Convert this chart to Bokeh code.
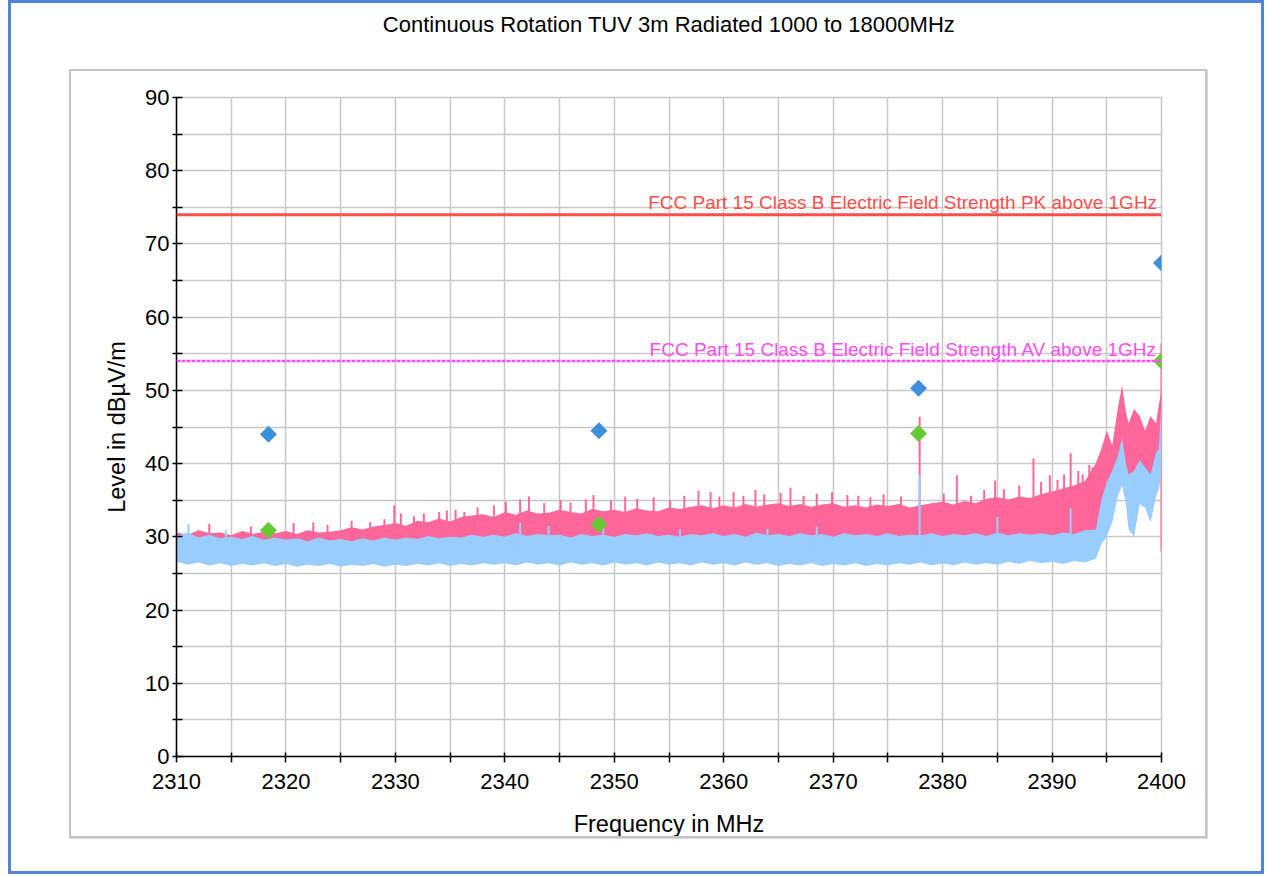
import numpy as np
from bokeh.plotting import figure
from bokeh.models import Range1d, FixedTicker, Label, Span, LinearAxis, InlineStyleSheet
from bokeh.embed import file_html
from bokeh.resources import INLINE

# ---------------- texts ----------------
title_text = "Continuous Rotation TUV 3m Radiated 1000 to 18000MHz"
x_label = "Frequency in MHz"
y_label = "Level in dBµV/m"
pk_limit_label = "FCC Part 15 Class B Electric Field Strength PK above 1GHz"
av_limit_label = "FCC Part 15 Class B Electric Field Strength AV above 1GHz"

# ---------------- ticks ----------------
x_ticks = [2310, 2320, 2330, 2340, 2350, 2360, 2370, 2380, 2390, 2400]
x_minor = [2315, 2325, 2335, 2345, 2355, 2365, 2375, 2385, 2395]
y_ticks = [0, 10, 20, 30, 40, 50, 60, 70, 80, 90]
y_minor = [5, 15, 25, 35, 45, 55, 65, 75, 85]

# ---------------- limits ----------------
pk_limit = 74
av_limit = 54

# ---------------- scan envelopes ----------------
env_freq = [2310, 2311, 2312, 2313, 2314, 2315, 2316, 2317, 2318, 2319,
            2320, 2321, 2322, 2323, 2324, 2325, 2326, 2327, 2328, 2329,
            2330, 2331, 2332, 2333, 2334, 2335, 2336, 2337, 2338, 2339,
            2340, 2341, 2342, 2343, 2344, 2345, 2346, 2347, 2348, 2349,
            2350, 2351, 2352, 2353, 2354, 2355, 2356, 2357, 2358, 2359,
            2360, 2361, 2362, 2363, 2364, 2365, 2366, 2367, 2368, 2369,
            2370, 2371, 2372, 2373, 2374, 2375, 2376, 2377, 2378, 2379,
            2380, 2381, 2382, 2383, 2384, 2385, 2386, 2387, 2388, 2389,
            2390, 2391, 2392, 2393,
            2394, 2394.5, 2395, 2395.5, 2396, 2396.4, 2396.75, 2397, 2397.5,
            2398, 2398.5, 2399, 2399.5, 2399.75, 2400]

pk_hi = [30.6, 30.3, 30.9, 30.5, 30.6, 30.2, 30.8, 30.4, 30.7, 30.5,
         30.8, 30.4, 30.9, 30.6, 30.7, 30.9, 31.3, 31.0, 31.4, 31.6,
         31.9, 31.5, 32.2, 32.0, 32.5, 32.1, 32.7, 32.9, 33.1, 32.7,
         33.4, 33.0, 33.6, 33.2, 33.3, 33.7, 33.4, 33.2, 33.8, 33.5,
         33.7, 33.4, 33.9, 33.6, 33.5, 34.0, 33.8, 34.1, 34.3, 33.9,
         34.3, 34.0, 34.5, 34.1, 34.4, 34.6, 34.2, 34.5, 34.1, 34.4,
         34.6, 34.1, 34.3, 34.0, 34.4, 34.2, 34.5, 34.0, 34.3, 34.6,
         34.8, 34.4, 34.9, 34.6, 35.2, 35.4, 35.1, 35.5, 35.3, 35.8,
         36.2, 36.6, 37.0, 37.6,
         40.0, 42.0, 44.5, 42.5, 47.5, 50.7, 47.0, 45.5, 47.5,
         46.5, 44.5, 46.5, 45.5, 48.0, 50.0]

pk_lo = [26.9, 26.5, 26.8, 26.4, 26.7, 26.3, 26.6, 26.4, 26.7, 26.3,
         26.6, 26.2, 26.5, 26.3, 26.6, 26.2, 26.5, 26.3, 26.6, 26.2,
         26.5, 26.3, 26.6, 26.4, 26.7, 26.3, 26.6, 26.4, 26.7, 26.5,
         26.7, 26.4, 26.8, 26.5, 26.7, 26.4, 26.8, 26.5, 26.7, 26.4,
         26.8, 26.5, 26.7, 26.4, 26.8, 26.5, 26.7, 26.4, 26.8, 26.5,
         26.7, 26.4, 26.8, 26.5, 26.7, 26.3, 26.6, 26.4, 26.7, 26.3,
         26.6, 26.4, 26.7, 26.3, 26.6, 26.4, 26.7, 26.5, 26.8, 26.4,
         26.7, 26.4, 26.8, 26.5, 26.7, 26.5, 26.9, 26.6, 27.0, 26.7,
         26.9, 26.6, 27.0, 26.8,
         27.5, 29.5, 30.5, 32.5, 36.0, 37.5, 35.0, 31.5, 30.5,
         35.0, 34.5, 32.5, 36.0, 37.0, 39.0]

av_hi = [30.1, 30.6, 29.9, 30.3, 29.8, 30.0, 29.7, 30.1, 29.6, 29.9,
         29.6, 29.8, 29.4, 29.9, 29.5, 29.7, 29.4, 29.8, 29.5, 29.9,
         29.6, 29.9, 29.7, 30.1, 29.8, 30.0, 29.9, 30.3, 30.0, 30.3,
         30.0, 30.5, 30.1, 30.4, 30.2, 30.3, 29.9, 30.4, 30.1, 30.3,
         30.0, 30.4, 30.2, 30.5, 30.1, 30.3, 30.0, 30.4, 30.2, 30.5,
         30.1, 30.4, 30.0, 30.6, 30.2, 30.4, 30.1, 30.5, 30.2, 30.4,
         30.0, 30.5, 30.2, 30.4, 30.1, 30.5, 30.1, 30.3, 30.2, 30.5,
         30.1, 30.4, 30.2, 30.5, 30.1, 30.6, 30.2, 30.5, 30.3, 30.5,
         30.2, 30.6, 30.4, 30.9,
         31.0, 35.0, 37.5, 39.0, 41.0, 43.5, 40.0, 38.5, 39.0,
         40.5, 39.5, 38.5, 41.5, 42.0, 48.5]

av_lo = [26.6, 26.2, 26.5, 26.1, 26.4, 26.0, 26.3, 26.1, 26.4, 26.0,
         26.3, 25.9, 26.2, 26.0, 26.3, 25.9, 26.2, 26.0, 26.3, 25.9,
         26.2, 26.0, 26.3, 26.1, 26.4, 26.0, 26.3, 26.1, 26.4, 26.2,
         26.4, 26.1, 26.5, 26.2, 26.4, 26.1, 26.5, 26.2, 26.4, 26.1,
         26.5, 26.2, 26.4, 26.1, 26.5, 26.2, 26.4, 26.1, 26.5, 26.2,
         26.4, 26.1, 26.5, 26.2, 26.4, 26.0, 26.3, 26.1, 26.4, 26.0,
         26.3, 26.1, 26.4, 26.0, 26.3, 26.1, 26.4, 26.2, 26.5, 26.1,
         26.4, 26.1, 26.5, 26.2, 26.4, 26.2, 26.6, 26.3, 26.7, 26.4,
         26.6, 26.3, 26.7, 26.5,
         27.0, 29.0, 30.0, 32.0, 35.5, 37.0, 34.5, 31.0, 30.0,
         34.5, 34.0, 32.0, 35.5, 36.5, 38.5]

# isolated spikes above the noise band
pk_spike_freq = [2313.0, 2316.8, 2318.3, 2320.7, 2322.5, 2323.8, 2326.0, 2327.7,
                 2329.0, 2329.9, 2330.5, 2331.7, 2332.6, 2334.0, 2334.7, 2335.5,
                 2336.3, 2337.5, 2339.0, 2340.1, 2341.4, 2342.2, 2343.6, 2345.1,
                 2346.0, 2347.4, 2348.1, 2349.7, 2351.0, 2352.1, 2353.6, 2355.1,
                 2356.4, 2357.7, 2358.8, 2359.6, 2360.9, 2361.8, 2362.9, 2363.7,
                 2365.2, 2366.1, 2367.3, 2368.5, 2369.9, 2371.3, 2372.3, 2373.4,
                 2374.6, 2376.2, 2377.9, 2380.1, 2381.3, 2382.6, 2383.8, 2384.8,
                 2385.6, 2387.0, 2388.3, 2389.0, 2389.8, 2390.5, 2391.1, 2391.7,
                 2392.4, 2392.8, 2393.4, 2393.7, 2400.0]
pk_spike_level = [31.8, 31.4, 31.3, 31.9, 32.0, 31.6, 32.2, 32.0,
                  32.4, 34.3, 33.2, 32.8, 33.2, 33.4, 33.6, 33.7,
                  33.4, 34.0, 34.3, 34.8, 35.1, 35.5, 34.6, 35.0,
                  34.7, 35.1, 35.7, 35.0, 35.5, 35.2, 35.4, 35.0,
                  35.6, 36.3, 36.1, 35.5, 36.1, 35.6, 36.4, 35.8,
                  36.0, 36.7, 35.6, 35.9, 36.1, 35.7, 35.6, 35.4,
                  35.8, 35.5, 46.4, 35.9, 38.4, 35.6, 36.4, 37.7,
                  36.5, 37.0, 40.7, 37.5, 38.4, 37.8, 38.5, 41.4,
                  39.0, 38.5, 39.8, 39.5, 56.4]
av_spike_freq = [2311.1, 2314.5, 2341.4, 2344.0, 2349.0, 2356.0, 2364.0, 2368.5,
                 2377.9, 2385.0, 2391.7]
av_spike_level = [31.8, 30.9, 31.9, 31.5, 31.2, 31.0, 31.1, 31.4,
                  38.5, 32.7, 33.9]

# final measurement points
final_freq = [2318.4, 2348.6, 2377.8, 2400.0]
final_pk = [44.0, 44.5, 50.3, 67.4]
final_av = [30.9, 31.7, 44.1, 54.0]

# ---------------- styles ----------------
FONT = "Liberation Sans"
PINK = "#ff6699"
LIGHTBLUE = "#99ccff"
RED = "#ff4d4d"
MAGENTA = "#ff4df0"
DIAMOND_BLUE = "#3d8fd9"
DIAMOND_GREEN = "#66c933"
GRID = "#c8c8c8"

frame_css = InlineStyleSheet(css="""
:host { position: relative; }
:host::before { content: ""; position: absolute; left: 8px; top: 0px; width: 1256px;
  height: 874px; box-sizing: border-box; border: 3px solid #4f87d6;
  pointer-events: none; z-index: 5; }
:host::after { content: ""; position: absolute; left: 69px; top: 69px; width: 1138px;
  height: 769px; box-sizing: border-box; border: 2px solid #c4c4c4;
  box-shadow: 1px 1px 0px #d8d8d8; pointer-events: none; z-index: 5; }
""")

p = figure(width=1264, height=874, output_backend="svg", toolbar_location=None,
           x_range=Range1d(2310, 2400), y_range=Range1d(0, 90),
           min_border_left=176, min_border_right=103, min_border_top=97,
           min_border_bottom=118, background_fill_color="white",
           border_fill_color="white", outline_line_color=GRID, outline_line_width=1.5)
p.stylesheets = [frame_css]

# axes
p.xaxis.ticker = FixedTicker(ticks=x_ticks, minor_ticks=x_minor)
p.yaxis.ticker = FixedTicker(ticks=y_ticks, minor_ticks=y_minor)
p.xaxis.axis_label = x_label
p.yaxis.axis_label = y_label
for ax in (p.xaxis[0], p.yaxis[0]):
    ax.axis_line_color = "black"
    ax.axis_line_width = 1.5
    ax.major_tick_line_color = "black"
    ax.major_tick_line_width = 1.5
    ax.minor_tick_line_color = "black"
    ax.minor_tick_line_width = 1.5
    ax.major_label_text_font = FONT
    ax.major_label_text_font_size = "22px"
    ax.major_label_text_color = "black"
    ax.axis_label_text_font = FONT
    ax.axis_label_text_font_size = "23.5px"
    ax.axis_label_text_font_style = "normal"
    ax.axis_label_text_color = "black"
p.xaxis.major_tick_in = 4
p.xaxis.major_tick_out = 6
p.xaxis.minor_tick_in = 4
p.xaxis.minor_tick_out = 6
p.yaxis.major_tick_in = 6
p.yaxis.major_tick_out = 4
p.yaxis.minor_tick_in = 6
p.yaxis.minor_tick_out = 4
p.xaxis.major_label_standoff = 11
p.yaxis.major_label_standoff = 3
p.xaxis.axis_label_standoff = 19
p.yaxis.axis_label_standoff = 12

p.xgrid.grid_line_color = GRID
p.xgrid.grid_line_width = 1.5
p.xgrid.minor_grid_line_color = GRID
p.xgrid.minor_grid_line_width = 1.5
p.ygrid.grid_line_color = GRID
p.ygrid.grid_line_width = 1.5
p.ygrid.minor_grid_line_color = GRID
p.ygrid.minor_grid_line_width = 1.5

# title, carried by an empty axis above the plot
title_axis = LinearAxis(ticker=FixedTicker(ticks=[]), axis_label=title_text,
                        axis_line_color=None, major_tick_line_color=None,
                        minor_tick_line_color=None, major_label_text_font_size="0px",
                        axis_label_text_font=FONT, axis_label_text_font_size="22px",
                        axis_label_text_font_style="normal", axis_label_text_color="black",
                        axis_label_standoff=61)
p.add_layout(title_axis, "above")

# traces
p.varea(x=env_freq, y1=pk_lo, y2=pk_hi, fill_color=PINK)
p.segment(x0=pk_spike_freq, y0=[28.0] * len(pk_spike_freq), x1=pk_spike_freq,
          y1=pk_spike_level, line_color=PINK, line_width=2)
p.varea(x=env_freq, y1=av_lo, y2=av_hi, fill_color=LIGHTBLUE)
p.segment(x0=av_spike_freq, y0=[27.0] * len(av_spike_freq), x1=av_spike_freq,
          y1=av_spike_level, line_color=LIGHTBLUE, line_width=2)

# limit lines
p.add_layout(Span(location=pk_limit, dimension="width", line_color=RED, line_width=3))
p.add_layout(Span(location=av_limit, dimension="width", line_color=MAGENTA,
                  line_width=2.5, line_dash="4 1"))
p.add_layout(Label(x=2399.6, y=pk_limit, text=pk_limit_label, text_align="right",
                   text_baseline="alphabetic", y_offset=12, text_font=FONT,
                   text_font_size="19px", text_color=RED))
p.add_layout(Label(x=2399.6, y=av_limit, text=av_limit_label, text_align="right",
                   text_baseline="alphabetic", y_offset=12, text_font=FONT,
                   text_font_size="19px", text_color=MAGENTA))

# final points
p.scatter(final_freq, final_pk, marker="square", angle=np.pi / 4, size=12,
          fill_color=DIAMOND_BLUE, line_color=None)
p.scatter(final_freq, final_av, marker="square", angle=np.pi / 4, size=12,
          fill_color=DIAMOND_GREEN, line_color=None)

open("out.html", "w").write(file_html(p, INLINE))
